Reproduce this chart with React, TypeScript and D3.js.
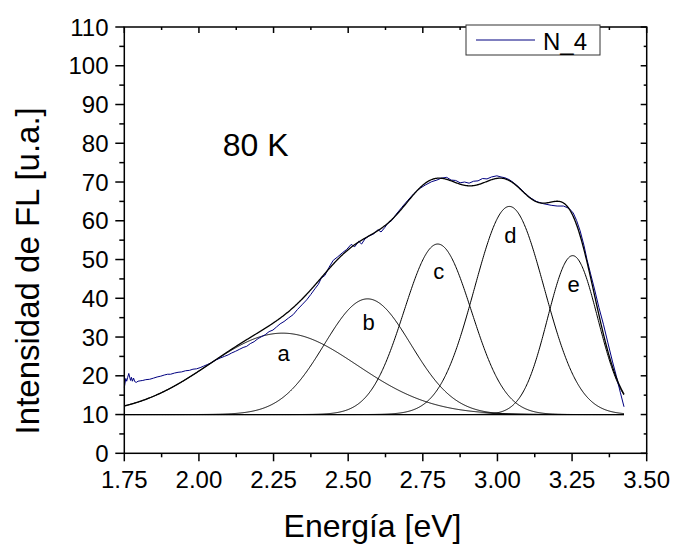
import React from 'react';
import * as d3 from 'd3';

// ---- data ----
const xTickValues = [1.75, 2.0, 2.25, 2.5, 2.75, 3.0, 3.25, 3.5];
const yTickValues = [0, 10, 20, 30, 40, 50, 60, 70, 80, 90, 100, 110];

const peakLabels = ['a', 'b', 'c', 'd', 'e'];
const peakCenters = [2.28, 2.565, 2.8, 3.04, 3.252];
const peakHeights = [21, 29.85, 44, 53.7, 41];
const peakWidths = [0.25, 0.145, 0.113, 0.117, 0.084];
const baselineLevel = 10;
const fitRange = [1.75, 3.424];

const energy = [
  1.75, 1.752, 1.755, 1.758, 1.761, 1.765, 1.768, 1.771, 1.774, 1.777, 1.781, 1.785, 1.79, 1.796,
  1.803, 1.812, 1.822, 1.835, 1.848, 1.86, 1.872, 1.884, 1.895, 1.905, 1.918, 1.93, 1.942, 1.955,
  1.968, 1.98, 1.992, 2.004, 2.016, 2.028, 2.04, 2.05, 2.06, 2.072, 2.085, 2.098, 2.11, 2.122,
  2.135, 2.148, 2.16, 2.172, 2.185, 2.198, 2.21, 2.222, 2.235, 2.248, 2.26, 2.272, 2.285, 2.3,
  2.316, 2.33, 2.345, 2.361, 2.375, 2.39, 2.4, 2.41, 2.422, 2.435, 2.45, 2.465, 2.48, 2.495,
  2.51, 2.522, 2.535, 2.545, 2.556, 2.57, 2.585, 2.6, 2.61, 2.622, 2.632, 2.645, 2.66, 2.68,
  2.7, 2.72, 2.741, 2.76, 2.78, 2.797, 2.812, 2.83, 2.845, 2.86, 2.875, 2.89, 2.905, 2.92,
  2.935, 2.95, 2.965, 2.98, 2.998, 3.012, 3.025, 3.04, 3.053, 3.07, 3.09, 3.109, 3.13, 3.154,
  3.18, 3.2, 3.221, 3.24, 3.254, 3.265, 3.277, 3.29, 3.3, 3.312, 3.325, 3.34, 3.355, 3.37,
  3.385, 3.398, 3.412, 3.424,
];
const intensity = [
  17.0, 17.9, 19.3, 18.6, 19.5, 20.6, 19.7, 18.8, 19.6, 18.6, 19.4, 18.5, 18.3, 18.6,
  18.7, 18.8, 19.0, 19.1, 19.4, 19.7, 19.9, 20.2, 20.4, 20.4, 20.7, 20.9, 21.0, 21.3,
  21.4, 21.7, 21.8, 22.1, 22.5, 22.9, 23.3, 23.8, 24.2, 24.6, 25.0, 25.4, 25.9, 26.3,
  26.8, 27.3, 27.6, 28.3, 28.8, 29.6, 30.1, 30.6, 31.4, 31.8, 32.6, 33.4, 34.0, 34.9,
  35.8, 37.1, 38.3, 39.6, 41.0, 42.6, 43.6, 45.2, 45.9, 47.9, 49.8, 50.7, 51.7, 52.6,
  53.9, 53.3, 54.7, 54.0, 55.3, 56.1, 56.6, 57.7, 57.1, 58.2, 59.3, 60.0, 61.6, 63.5,
  65.3, 67.0, 68.4, 69.3, 70.1, 70.5, 71.0, 71.2, 70.5, 70.4, 69.8, 70.0, 69.7, 70.2,
  70.3, 70.9, 70.8, 71.3, 71.6, 71.3, 71.1, 70.6, 69.9, 68.8, 67.3, 66.0, 65.0, 64.4,
  64.0, 63.8, 63.8, 63.2, 62.0, 60.1, 57.4, 53.6, 50.0, 46.3, 42.4, 37.6, 33.3, 28.5,
  23.8, 20.0, 15.6, 12.0,
];

const seriesName = 'N_4';
const annotation = '80 K';
const xTitle = 'Energía [eV]';
const yTitle = 'Intensidad de FL [u.a.]';

// ---- styles ----
const W = 677;
const H = 546;
const FONT = "'Liberation Sans', Arial, sans-serif";
const BLUE = '#000080';
const labelDy = [28, 31, 35, 37, 36];

export default function App() {
  const x = d3.scaleLinear().domain([1.75, 3.5]).range([124.3, 646.7]);
  const y = d3.scaleLinear().domain([0, 110]).range([453.3, 27]);
  const [x0, x1] = x.range();
  const [y0, y1] = y.range();

  const gauss = (e: number, i: number) =>
    peakHeights[i] * Math.exp(-((e - peakCenters[i]) ** 2) / (2 * peakWidths[i] ** 2));

  const samples = d3.range(fitRange[0], fitRange[1] + 1e-9, 0.002);
  const lineGen = d3
    .line<[number, number]>()
    .x((d) => x(d[0]))
    .y((d) => y(d[1]))
    .curve(d3.curveLinear);

  const components = peakCenters.map((_, i) =>
    lineGen(samples.map((e) => [e, baselineLevel + gauss(e, i)] as [number, number]))
  );
  const fitPath = lineGen(
    samples.map((e) => [e, baselineLevel + d3.sum(peakCenters, (_, i) => gauss(e, i))] as [number, number])
  );
  const dataPath = lineGen(energy.map((e, i) => [e, intensity[i]] as [number, number]));
  const basePath = lineGen([
    [fitRange[0], baselineLevel],
    [fitRange[1], baselineLevel],
  ]);

  const xMinor = d3.range(1.875, 3.5, 0.25);
  const yMinor = d3.range(5, 110, 10);

  return (
    <svg
      width={W}
      height={H}
      style={{ position: 'absolute', left: 0, top: 0, background: '#fff' }}
      fontFamily={FONT}
    >
      <rect x={0} y={0} width={W} height={H} fill="#fff" />
      <g fill="none" strokeLinejoin="round">
        <path d={basePath || ''} stroke="#000" strokeWidth={1.2} />
        {components.map((p, i) => (
          <path key={i} d={p || ''} stroke="#000" strokeWidth={1} />
        ))}
        <path d={dataPath || ''} stroke={BLUE} strokeWidth={1} />
        <path d={fitPath || ''} stroke="#000" strokeWidth={1.3} />
      </g>

      {peakLabels.map((l, i) => (
        <text
          key={l}
          x={x(peakCenters[i]) + 1}
          y={y(baselineLevel + peakHeights[i]) + labelDy[i]}
          fontSize={22}
          textAnchor="middle"
        >
          {l}
        </text>
      ))}

      {/* frame */}
      <rect x={x0} y={y1} width={x1 - x0} height={y0 - y1} fill="none" stroke="#000" strokeWidth={1.5} />

      {/* bottom axis */}
      {xTickValues.map((t) => (
        <g key={'xt' + t}>
          <line x1={x(t)} x2={x(t)} y1={y0} y2={y0 + 8} stroke="#000" strokeWidth={1.5} />
          <line x1={x(t)} x2={x(t)} y1={y1} y2={y1 + 6} stroke="#000" strokeWidth={1.5} />
          <text x={x(t)} y={488.3} fontSize={24} textAnchor="middle">
            {d3.format('.2f')(t)}
          </text>
        </g>
      ))}
      {xMinor.map((t) => (
        <g key={'xm' + t}>
          <line x1={x(t)} x2={x(t)} y1={y0} y2={y0 + 4} stroke="#000" strokeWidth={1.5} />
          <line x1={x(t)} x2={x(t)} y1={y1} y2={y1 + 3} stroke="#000" strokeWidth={1.5} />
        </g>
      ))}

      {/* left axis */}
      {yTickValues.map((t) => (
        <g key={'yt' + t}>
          <line x1={x0 - 9} x2={x0} y1={y(t)} y2={y(t)} stroke="#000" strokeWidth={1.5} />
          <line x1={x1 - 6} x2={x1} y1={y(t)} y2={y(t)} stroke="#000" strokeWidth={1.5} />
          <text x={108.5} y={y(t) + 8.6} fontSize={24} textAnchor="end">
            {t}
          </text>
        </g>
      ))}
      {yMinor.map((t) => (
        <g key={'ym' + t}>
          <line x1={x0 - 5} x2={x0} y1={y(t)} y2={y(t)} stroke="#000" strokeWidth={1.5} />
          <line x1={x1 - 3} x2={x1} y1={y(t)} y2={y(t)} stroke="#000" strokeWidth={1.5} />
        </g>
      ))}

      {/* titles */}
      <text x={372.5} y={536.7} fontSize={32} textAnchor="middle">
        {xTitle}
      </text>
      <text
        transform={`translate(38.5, 270.8) rotate(-90)`}
        fontSize={33}
        textAnchor="middle"
      >
        {yTitle}
      </text>
      <text x={222.7} y={156} fontSize={32}>
        {annotation}
      </text>

      {/* legend */}
      <rect x={466} y={25} width={134} height={30} fill="#fff" stroke="#333" strokeWidth={1} />
      <line x1={476} x2={535} y1={40} y2={40} stroke={BLUE} strokeWidth={1} />
      <text x={543} y={50} fontSize={24}>
        {seriesName}
      </text>
    </svg>
  );
}
